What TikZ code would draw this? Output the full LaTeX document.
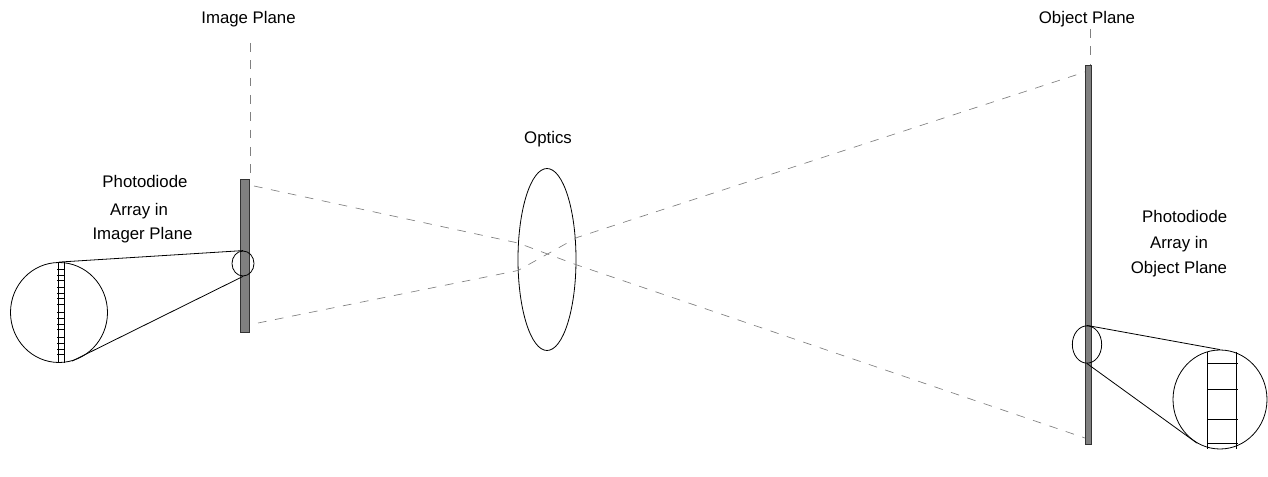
\documentclass[tikz,border=0pt]{standalone}
\usepackage{fontspec}
\setmainfont{Liberation Sans}
\usetikzlibrary{shapes.geometric}
\begin{document}
\begin{tikzpicture}[
  x=0.75pt, y=-0.75pt,
  lbl/.style={font=\fontsize{12.6}{14}\selectfont, inner sep=0pt, anchor=base},
  planebar/.style={draw=black!80, fill=black!50, line width=0.7pt, minimum width=#1, inner sep=0pt},
  loop/.style={draw, ellipse, line width=0.6pt, inner sep=0pt},
  ray/.style={gray, line width=0.5pt, dash pattern=on 6.5pt off 6.5pt},
  edge/.style={line width=0.6pt}
]
\useasboundingbox (0,0) rectangle (1268,477);
% labels
\node[lbl] (imglabel) at (248.5,24) {Image Plane};
\node[lbl] (objlabel) at (1087,24) {Object Plane};
\node[lbl] (opticslabel) at (548,144) {Optics};
\node[lbl] (diode1) at (145,188) {Photodiode};
\node[lbl] (diode2) at (139,215.7) {Array in};
\node[lbl] (diode3) at (142.5,240) {Imager Plane};
\node[lbl] (diode4) at (1184.7,223) {Photodiode};
\node[lbl] (diode5) at (1179,249) {Array in};
\node[lbl] (diode6) at (1179,274) {Object Plane};
% planes and lens
\node[planebar=6.75pt, minimum height=114.75pt] (imgbar) at (244.5,255.5) {};
\node[planebar=4.5pt, minimum height=284.25pt] (objbar) at (1088,254.5) {};
\node[loop, minimum width=43.5pt, minimum height=136.5pt] (lens) at (547,259.5) {};
% magnified circles
\node[loop, minimum width=16.5pt, minimum height=18.75pt] (imgspot) at (243,263.5) {};
\node[loop, minimum width=72.75pt, minimum height=75pt] (imgzoom) at (59,312.5) {};
\node[loop, minimum width=22pt, minimum height=28pt] (objspot) at (1087,344.5) {};
\node[loop, minimum width=70.5pt, minimum height=74.25pt] (objzoom) at (1220,399.5) {};
\draw[edge] (imgzoom.north) -- (imgspot.north);
\draw[edge] (imgzoom.-75) -- (imgspot.south);
\draw[edge] (objspot.north) -- (objzoom.north);
\draw[edge] (objspot.south) -- (objzoom.-118);
% photodiode cells
\draw[edge] (58,262) -- (58,363);
\draw[edge] (64,262) -- (64,363);
\foreach \y in {269,275,280,287,293,298,304,312,318,324,329,337,343,349,354}
  \draw[line width=0.5pt] (57,\y) -- (64,\y);
\draw[edge] (1207.7,352) -- (1207.7,448.5);
\draw[edge] (1236.7,352) -- (1236.7,448.5);
\foreach \y in {363.3,389.3,419.3,443.3}
  \draw[edge] (1207.7,\y) -- (1238,\y);
% dashed lines
\coordinate (imgtop) at (250,43);
\coordinate (imgend) at (250,179);
\coordinate (objtop) at (1090,29);
\coordinate (objend) at (1090,65);
\coordinate (upperleft) at (254,186);
\coordinate (upperin) at (518,243);
\coordinate (upperout) at (577,265);
\coordinate (upperright) at (1085,438);
\coordinate (lowerleft) at (258,323);
\coordinate (lowerin) at (518,270.5);
\coordinate (lowerout) at (577,237.5);
\coordinate (lowerright) at (1085,72);
\draw[ray] (imgtop) -- (imgend);
\draw[ray] (objtop) -- (objend);
\draw[ray] (upperleft) -- (upperin) -- (upperout) -- (upperright);
\draw[ray] (lowerleft) -- (lowerin) -- (lowerout) -- (lowerright);
\end{tikzpicture}
\end{document}
